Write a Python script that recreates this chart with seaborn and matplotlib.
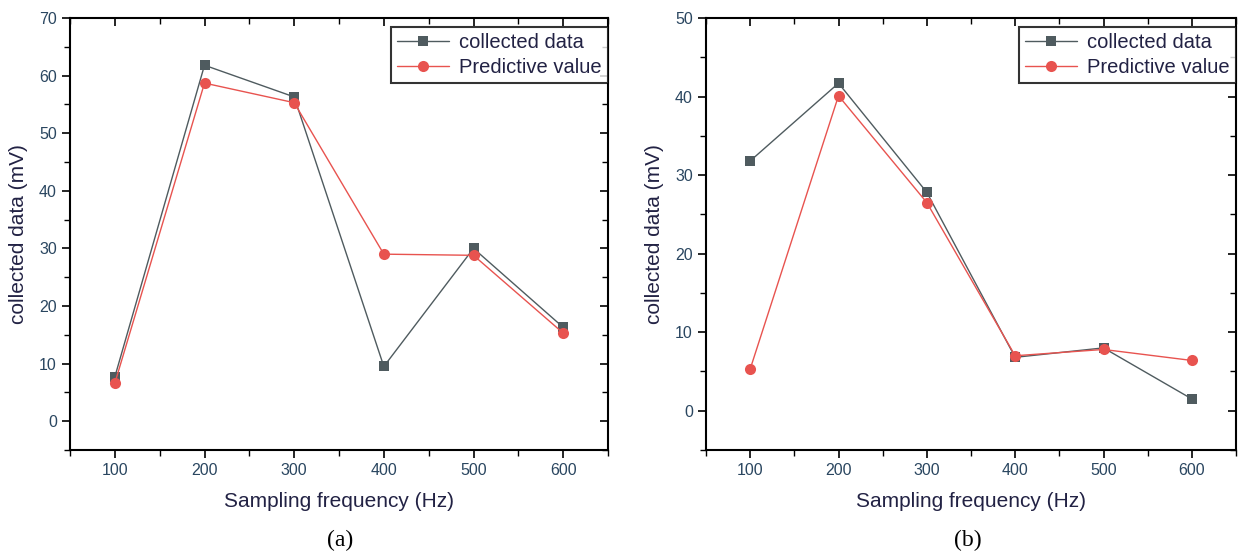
import matplotlib
matplotlib.use("Agg")
import matplotlib.pyplot as plt
import matplotlib.lines as mlines
import seaborn as sns
import numpy as np
import pandas as pd
from matplotlib.ticker import MultipleLocator

freq = [100, 200, 300, 400, 500, 600]
collected_a = [7.7, 61.8, 56.3, 9.5, 30.0, 16.3]
predict_a = [6.6, 58.7, 55.3, 29.0, 28.8, 15.3]
collected_b = [31.8, 41.7, 27.8, 6.8, 8.0, 1.5]
predict_b = [5.3, 40.1, 26.5, 7.0, 7.8, 6.4]

series_names = ["collected data", "Predictive value"]
xlabel = "Sampling frequency (Hz)"
ylabel = "collected data (mV)"
captions = ["(a)", "(b)"]

sns.set_theme(style="white")
plt.rcParams['font.family'] = ['Liberation Sans', 'DejaVu Sans']

gray = "#4f5b5f"
red = "#e8534f"
tick_color = "#2a4660"
text_color = "#222244"

fig = plt.figure(figsize=(12.38, 5.56), dpi=100)
ax1 = fig.add_axes([70/1238, 1-450/556, (608-70)/1238, (450-18)/556])
ax2 = fig.add_axes([706/1238, 1-450/556, (1236-706)/1238, (450-18)/556])

panels = [(ax1, collected_a, predict_a, 70), (ax2, collected_b, predict_b, 50)]
for ax, col, pre, ymax in panels:
    sns.lineplot(x=freq, y=col, ax=ax, color=gray, marker="s", markersize=7.5,
                 markeredgewidth=0, linewidth=1.0, label=series_names[0])
    sns.lineplot(x=freq, y=pre, ax=ax, color=red, marker="o", markersize=8,
                 markeredgewidth=0, linewidth=1.0, label=series_names[1])
    ax.set_xticks(freq)
    ax.xaxis.set_minor_locator(MultipleLocator(50))
    ax.yaxis.set_major_locator(MultipleLocator(10))
    ax.yaxis.set_minor_locator(MultipleLocator(5))
    ax.set_xlim(50, 650)
    ax.set_ylim(-5, ymax)
    ax.tick_params(axis="both", which="both", direction="out", bottom=True, left=True,
                   top=True, right=True, colors="black", labelcolor=tick_color,
                   labelsize=11.5, labeltop=False, labelright=False)
    ax.tick_params(which="major", length=6, width=1.2)
    ax.tick_params(which="minor", length=4, width=1.0)
    for spine in ax.spines.values():
        spine.set_color("black")
        spine.set_linewidth(1.5)
    ax.set_xlabel(xlabel, fontsize=15, color=text_color, labelpad=10)
    ax.set_ylabel(ylabel, fontsize=15, color=text_color, labelpad=8)
    leg = ax.legend(loc="upper right", bbox_to_anchor=(1.0, 0.979), borderaxespad=0,
                    fancybox=False, frameon=True, fontsize=14.5, handlelength=2.6,
                    borderpad=0.3, labelspacing=0.3, handletextpad=0.5)
    leg.get_frame().set_edgecolor("black")
    leg.get_frame().set_linewidth(1.5)
    for t in leg.get_texts():
        t.set_color(text_color)
    # top and right ticks point inward
    for tick in ax.xaxis.get_major_ticks() + ax.xaxis.get_minor_ticks():
        tick.tick2line.set_marker(mlines.TICKDOWN)
    for tick in ax.yaxis.get_major_ticks() + ax.yaxis.get_minor_ticks():
        tick.tick2line.set_marker(mlines.TICKLEFT)

fig.text(340/1238, 1-540/556, captions[0], ha="center", va="center",
         fontsize=17, family="Liberation Serif", color="black")
fig.text(968/1238, 1-540/556, captions[1], ha="center", va="center",
         fontsize=17, family="Liberation Serif", color="black")

fig.savefig("out.png", dpi=100)
